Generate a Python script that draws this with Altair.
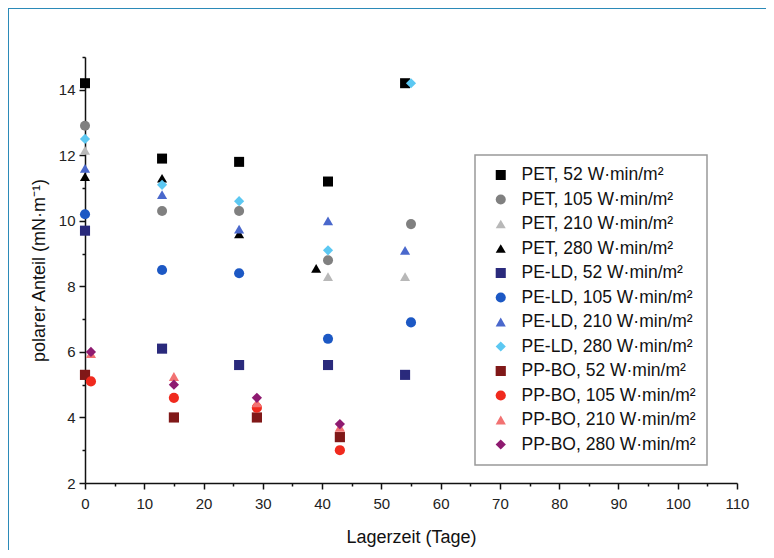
import altair as alt
import pandas as pd

series = [
    "PET, 52 W·min/m²", "PET, 105 W·min/m²", "PET, 210 W·min/m²", "PET, 280 W·min/m²",
    "PE-LD, 52 W·min/m²", "PE-LD, 105 W·min/m²", "PE-LD, 210 W·min/m²", "PE-LD, 280 W·min/m²",
    "PP-BO, 52 W·min/m²", "PP-BO, 105 W·min/m²", "PP-BO, 210 W·min/m²", "PP-BO, 280 W·min/m²",
]
shapes = ["square", "circle", "triangle-up", "triangle-up",
          "square", "circle", "triangle-up", "diamond",
          "square", "circle", "triangle-up", "diamond"]
sizes = [100, 105, 200, 200, 100, 105, 200, 170, 100, 105, 200, 170]
colors = ["#000000", "#808080", "#b8b8b8", "#000000",
          "#2a2a7c", "#1c58c4", "#4a68cc", "#5cc8f2",
          "#801818", "#f02a1e", "#f27272", "#8e1a70"]

days = [
    [0, 13, 26, 41, 54],
    [0, 13, 26, 41, 55],
    [0, 41, 54],
    [0, 13, 26, 39],
    [0, 13, 26, 41, 54],
    [0, 13, 26, 41, 55],
    [0, 13, 26, 41, 54],
    [0, 13, 26, 41, 55],
    [0, 15, 29, 43],
    [1, 15, 29, 43],
    [1, 15, 29, 43],
    [1, 15, 29, 43],
]
values = [
    [14.2, 11.9, 11.8, 11.2, 14.2],
    [12.9, 10.3, 10.3, 8.8, 9.9],
    [12.15, 8.3, 8.3],
    [11.35, 11.3, 9.6, 8.55],
    [9.7, 6.1, 5.6, 5.6, 5.3],
    [10.2, 8.5, 8.4, 6.4, 6.9],
    [11.6, 10.8, 9.75, 10.0, 9.1],
    [12.5, 11.1, 10.6, 9.1, 14.2],
    [5.3, 4.0, 4.0, 3.4],
    [5.1, 4.6, 4.3, 3.0],
    [5.95, 5.25, 4.45, 3.7],
    [6.0, 5.0, 4.6, 3.8],
]

rows = []
for s, ds, vs in zip(series, days, values):
    for d, v in zip(ds, vs):
        rows.append({"Serie": s, "Tage": d, "Wert": v})
df = pd.DataFrame(rows)

FONT = "Liberation Sans"
leg = alt.Legend(title=None, orient="none", legendX=390, legendY=98)

points = alt.Chart(df).mark_point(filled=True, opacity=1).encode(
    x=alt.X("Tage:Q", scale=alt.Scale(domain=[0, 110], nice=False),
            axis=alt.Axis(title="Lagerzeit (Tage)", values=list(range(0, 111, 5)),
                          labelExpr="datum.value % 10 === 0 ? datum.label : ''",
                          tickSize={"expr": "datum.value % 10 === 0 ? 6 : 3"},
                          labelPadding=7, titlePadding=17, labelFlush=False)),
    y=alt.Y("Wert:Q", scale=alt.Scale(domain=[2, 15], nice=False),
            axis=alt.Axis(title="polarer Anteil (mN·m⁻¹)", values=list(range(2, 16)),
                          labelExpr="datum.value % 2 === 0 && datum.value < 15 ? datum.label : ''",
                          tickSize={"expr": "datum.value % 2 === 0 ? 6 : 3"},
                          labelPadding=4, titlePadding=10, labelFlush=False)),
    color=alt.Color("Serie:N", scale=alt.Scale(domain=series, range=colors), legend=leg),
    shape=alt.Shape("Serie:N", scale=alt.Scale(domain=series, range=shapes), legend=leg),
    size=alt.Size("Serie:N", scale=alt.Scale(domain=series, range=sizes), legend=leg),
)

frame = alt.Chart(pd.DataFrame({"a": [0]})).mark_rect(
    fillOpacity=0, stroke="#2b8ab8", strokeWidth=2
).encode(x=alt.value(-77), x2=alt.value(682), y=alt.value(-49), y2=alt.value(700))

chart = alt.layer(frame, points).properties(
    width=652, height=426,
    autosize="none",
    padding={"left": 77, "top": 49, "right": 29, "bottom": 67},
).configure_view(stroke=None).configure_axis(
    domainColor="#111", domainWidth=1.5, tickColor="#111", tickWidth=1.5,
    grid=False, labelFont=FONT, labelFontSize=15, labelColor="#222",
    titleFont=FONT, titleFontSize=18, titleFontWeight="normal", titleColor="#111",
).configure_legend(
    labelFont=FONT, labelFontSize=17.5, labelColor="#111", strokeColor="#999",
    strokeWidth=1.5, padding=11, rowPadding=6.5, labelLimit=300, clipHeight=18,
    symbolOffset=6, labelOffset=12, fillColor="white",
)

chart.save("out.html", embed_options={"renderer": "svg", "actions": False})
